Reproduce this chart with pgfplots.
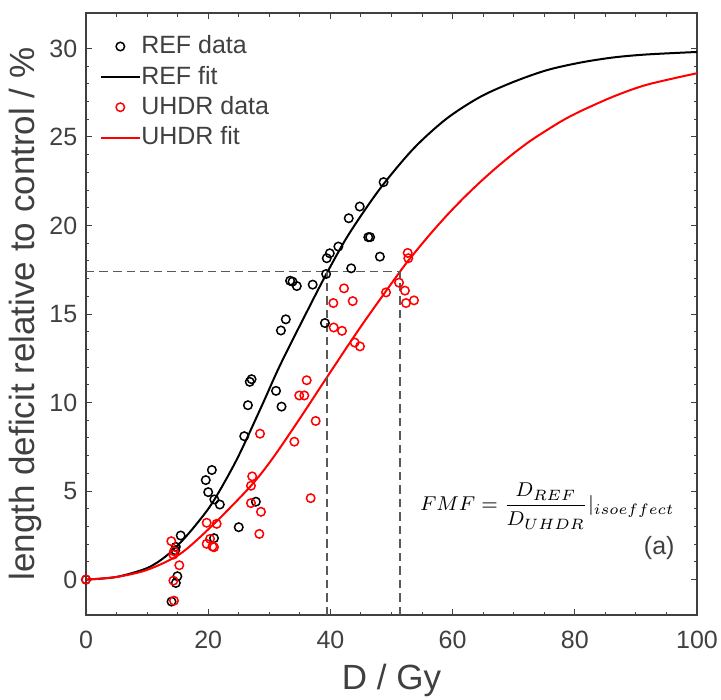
\documentclass[border=0pt]{standalone}
\usepackage{fontspec}
\setmainfont{Liberation Sans}
\usepackage{pgfplots}
\pgfplotsset{compat=1.18}
\definecolor{axgray}{gray}{0.25}
\definecolor{dashgray}{gray}{0.35}

\pgfplotsset{
  markleg/.style={legend image code/.code={\draw[##1] plot coordinates {(0.27cm,0cm)};}},
  lineleg/.style={legend image code/.code={\draw[##1] (0cm,0cm) -- (0.54cm,0cm);}},
}

\begin{document}
\begin{tikzpicture}
\path[use as bounding box] (-34.4pt,-33.6pt) rectangle (254pt,246pt);
\begin{axis}[
  scale only axis, width=244.4pt, height=240.8pt,
  xmin=0, xmax=100, ymin=-2, ymax=32,
  xtick={0,20,...,100}, ytick={0,5,...,30},
  minor x tick num=3, minor y tick num=4,
  tick align=inside, major tick length=2.4pt, minor tick length=1.4pt,
  axis line style={axgray, line width=0.5pt},
  every tick/.style={axgray, line width=0.4pt},
  tick label style={font=\fontsize{10}{12}\selectfont, text=axgray},
  /pgf/number format/assume math mode=true,
  xticklabel style={yshift=-3pt},
  xlabel={D / Gy},
  ylabel={length deficit relative to control / \%},
  label style={font=\fontsize{14}{16}\selectfont, text=axgray},
  x label style={at={(axis description cs:0.5,-0.108)}, anchor=center},
  y label style={at={(axis description cs:-0.0998,0.5)}, anchor=center},
  legend style={at={(axis description cs:0.01,0.98)}, anchor=north west,
    draw=none, fill=none, font=\fontsize{10}{12}\selectfont, text=axgray,
    nodes={inner xsep=0.3pt}, row sep=-0.6pt},
  legend cell align=left,
]
%% REF
\addplot[only marks, mark=o, mark size=1.7pt, black, mark options={line width=0.6pt}, markleg]
  coordinates {(0,0) (14.0,-1.24) (14.7,-0.19) (14.95,0.19) (14.6,1.66) (14.7,1.85)
   (15.5,2.49) (19.6,5.62) (20.6,6.19) (20.0,4.94) (21.0,4.53) (21.9,4.24) (20.95,2.34)
   (25.0,2.96) (27.8,4.40) (25.9,8.1) (26.5,9.85) (26.8,11.17) (27.1,11.32) (31.1,10.66)
   (32.0,9.77) (31.9,14.07) (32.7,14.7) (33.4,16.88) (33.8,16.83) (34.5,16.58) (37.1,16.66)
   (39.1,14.49) (39.3,17.26) (39.4,18.15) (39.9,18.43) (41.3,18.81) (43.4,17.58)
   (43.0,20.41) (44.8,21.07) (46.2,19.34) (46.5,19.34) (48.1,18.24) (48.7,22.45)};
\addplot[black, line width=0.8pt, smooth, lineleg]
  coordinates {(0,0) (5,0.15) (10,0.65) (13,1.3) (15.4,2.07) (18,3.1) (20.8,4.4)
   (24.7,6.8) (28.75,9.8) (31.75,12.1) (36.4,15.3) (39.4,17.3) (43,19.5) (48.1,22.07)
   (53.6,24.34) (59,26.03) (64.5,27.26) (69.9,28.1) (75.4,28.77) (80.9,29.2)
   (86.3,29.49) (91.8,29.66) (100,29.8)};
%% UHDR
\addplot[only marks, mark=o, mark size=1.7pt, red, mark options={line width=0.6pt}, markleg]
  coordinates {(0,0) (13.96,2.17) (14.4,1.6) (14.3,1.41) (15.27,0.81) (14.3,-0.06)
   (14.4,-1.19) (19.75,3.21) (21.39,3.15) (20.3,2.3) (19.75,2.02) (20.7,1.87) (20.95,1.83)
   (27.2,5.83) (27.0,5.3) (27.0,4.32) (28.64,3.83) (28.37,2.58) (28.48,8.24) (36.77,4.6)
   (34.1,7.79) (37.59,8.96) (34.9,10.4) (35.73,10.4) (36.12,11.26) (40.54,14.24)
   (41.9,14.05) (43.97,13.39) (44.84,13.17) (40.48,15.62) (42.23,16.45) (43.65,15.73)
   (49.1,16.22) (51.23,16.77) (52.2,16.32) (52.37,15.62) (53.68,15.77) (52.65,18.45)
   (52.75,18.15)};
\addplot[red, line width=0.8pt, smooth, lineleg]
  coordinates {(0,0) (5,0.15) (10,0.55) (15.4,1.45) (20.8,3.1) (27,5.3) (30.65,6.9)
   (35,9.1) (39.4,11.41) (45,14.3) (51.4,17.4) (53.6,18.38) (56.3,19.5) (59,20.55)
   (61.7,21.52) (64.5,22.45) (67.2,23.28) (69.9,24.05) (72.6,24.75) (75.4,25.38)
   (78,25.93) (80.9,26.45) (86.3,27.28) (91.8,27.95) (100,28.6)};
%% iso-effect guides
\addplot[dashgray, line width=0.7pt, dash pattern=on 3.4pt off 2pt, forget plot]
  coordinates {(0,17.4) (51.4,17.4)};
\addplot[dashgray, line width=0.7pt, dash pattern=on 3.4pt off 2pt, forget plot]
  coordinates {(39.4,-2) (39.4,17.4)};
\addplot[dashgray, line width=0.7pt, dash pattern=on 3.4pt off 2pt, forget plot]
  coordinates {(51.4,-2) (51.4,17.4)};
\legend{REF data, REF fit, UHDR data, UHDR fit}
\node[anchor=east, inner sep=0pt, font=\fontsize{8.3}{10}\selectfont] at (axis cs:96.4,4.15)
  {$\displaystyle FMF = \frac{D_{REF}}{D_{UHDR}}|_{isoeffect}$};
\node[anchor=east, inner sep=0pt, font=\fontsize{10}{12}\selectfont, text=axgray] at (axis cs:96.4,1.8) {(a)};
\end{axis}
\end{tikzpicture}
\end{document}
